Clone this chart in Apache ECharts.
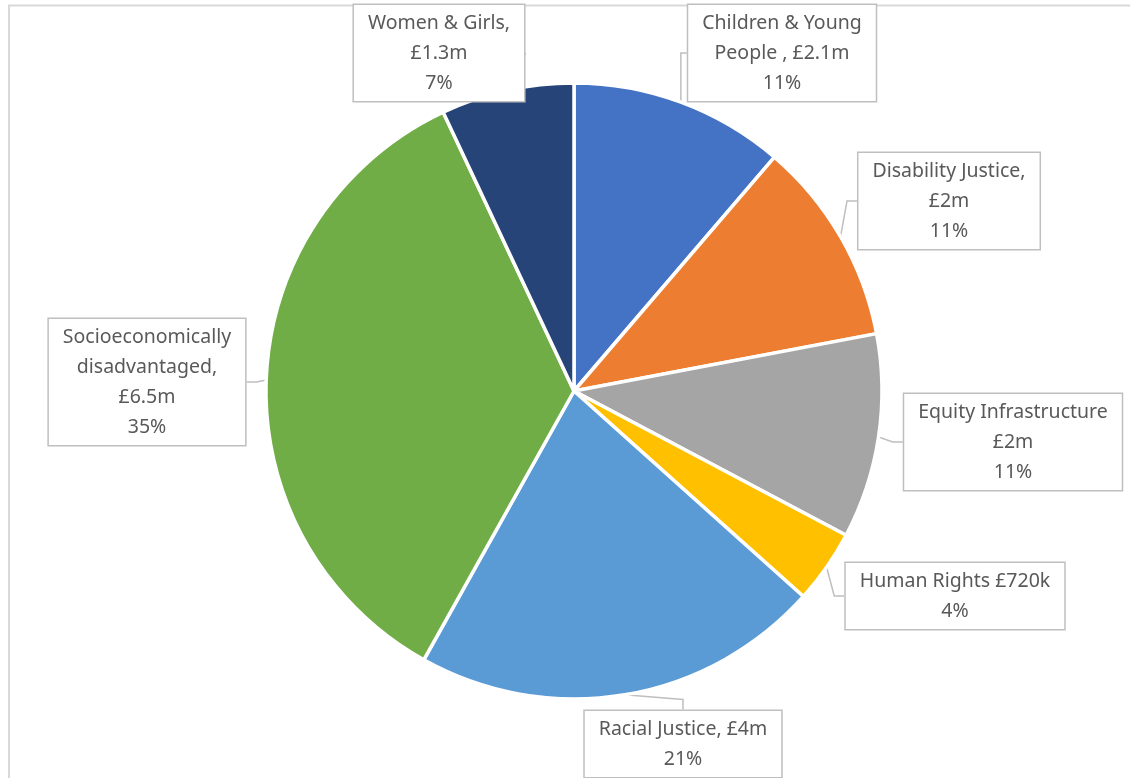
<!DOCTYPE html>
<html>
<head>
<meta charset="utf-8">
<script src="https://cdn.jsdelivr.net/npm/echarts@6/dist/echarts.min.js"></script>
<style>html,body{margin:0;padding:0;background:#fff}#c{width:1130px;height:778px}</style>
</head>
<body>
<div id="c"></div>
<script>
// Data
const categories = ['Children & Young People', 'Disability Justice', 'Equity Infrastructure', 'Human Rights', 'Racial Justice', 'Socioeconomically disadvantaged', 'Women & Girls'];
const valuesMillions = [2.1, 2.0, 2.0, 0.72, 4.0, 6.5, 1.3];
const amountLabels = ['£2.1m', '£2m', '£2m', '£720k', '£4m', '£6.5m', '£1.3m'];
const labelNameText = ['Children & Young\nPeople , ', 'Disability Justice,\n', 'Equity Infrastructure\n', 'Human Rights ', 'Racial Justice, ', 'Socioeconomically\ndisadvantaged,\n', 'Women & Girls,\n'];
const colors = ['#4472C4', '#ED7D31', '#A5A5A5', '#FFC000', '#5B9BD5', '#70AD47', '#264478'];
// label box centres (layout)
const labelCenters = [[782, 53], [949, 201], [1013, 442], [955, 596], [683, 744], [147, 382], [439, 53]];

const total = valuesMillions.reduce((a, b) => a + b, 0);
const chart = echarts.init(document.getElementById('c'));
chart.setOption({
  animation: false,
  graphic: [{
    type: 'rect', silent: true, z: -1,
    shape: { x: 9, y: 5.5, width: 1300, height: 900 },
    style: { fill: 'none', stroke: '#d9d9d9', lineWidth: 2 }
  }],
  series: [{
    type: 'pie',
    center: [574, 391],
    radius: [0, 308],
    startAngle: 90,
    clockwise: true,
    avoidLabelOverlap: false,
    itemStyle: { borderColor: '#ffffff', borderWidth: 3.5 },
    data: categories.map((c, i) => ({ name: c, value: valuesMillions[i], itemStyle: { color: colors[i] } })),
    label: {
      show: true,
      position: 'outside',
      formatter: p => labelNameText[p.dataIndex] + amountLabels[p.dataIndex] + '\n' + Math.round(p.value / total * 100) + '%',
      fontFamily: 'Noto Sans',
      fontSize: 19.5,
      lineHeight: 30,
      color: '#595959',
      align: 'center',
      backgroundColor: '#ffffff',
      borderColor: '#bfbfbf',
      borderWidth: 1.5,
      padding: [3, 14]
    },
    labelLine: { show: true, length: 10, length2: 10, lineStyle: { color: '#bfbfbf', width: 1.5 } },
    labelLayout: p => ({
      x: labelCenters[p.dataIndex][0],
      y: labelCenters[p.dataIndex][1],
      align: 'center',
      verticalAlign: 'middle'
    }),
    emphasis: { disabled: true }
  }]
});
</script>
</body>
</html>
